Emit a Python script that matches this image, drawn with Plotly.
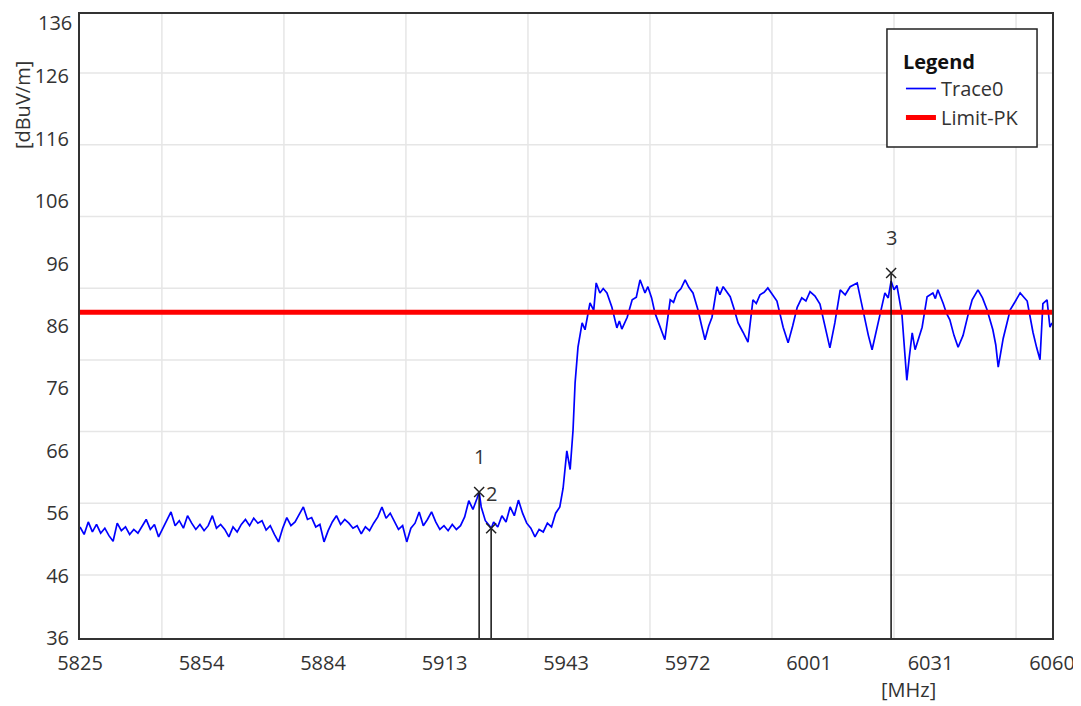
import plotly.graph_objects as go

# ---------------- data ----------------
trace0_freq = [
    5825, 5826, 5827, 5828, 5829, 5830, 5831, 5832, 5833, 5834, 5835, 5836, 5837, 5838, 5839,
    5840, 5841, 5842, 5843, 5844, 5845, 5846, 5847, 5848, 5849, 5850, 5851, 5852, 5853, 5854,
    5855, 5856, 5857, 5858, 5859, 5860, 5861, 5862, 5863, 5864, 5865, 5866, 5867, 5868, 5869,
    5870, 5871, 5872, 5873, 5874, 5875, 5876, 5877, 5878, 5879, 5880, 5881, 5882, 5883, 5884,
    5885, 5886, 5887, 5888, 5889, 5890, 5891, 5892, 5893, 5894, 5895, 5896, 5897, 5898, 5899,
    5900, 5901, 5902, 5903, 5904, 5905, 5906, 5907, 5908, 5909, 5910, 5911, 5912, 5913, 5914,
    5915, 5916, 5917, 5918, 5919, 5920, 5921, 5921.5, 5922, 5923, 5924, 5924.4, 5925, 5926,
    5927, 5928, 5929, 5930, 5931, 5932, 5933, 5934, 5935, 5936, 5937, 5938, 5939, 5940, 5941,
    5941.8, 5942.7, 5943.5, 5944.2, 5944.7, 5945.4, 5946.4, 5947.1, 5948.3, 5949.2, 5949.8,
    5950.7, 5951.5, 5952.4, 5953.6, 5954.8, 5955.4, 5956, 5957.3, 5958.5, 5959.5, 5960.4,
    5961.6, 5962.3, 5963.2, 5964, 5965.2, 5966.4, 5967.7, 5968.5, 5969.3, 5970.3, 5971.3,
    5972.2, 5973.2, 5974.4, 5975.3, 5976.1, 5977.0, 5977.8, 5979, 5979.7, 5980.5, 5981.4,
    5982.2, 5983.2, 5984.1, 5985.3, 5986.5, 5987.7, 5988.5, 5989.4, 5990.4, 5991.3, 5992.4,
    5993.5, 5995, 5996.2, 5997.3, 5998.4, 5999.5, 6000.5, 6001.5, 6002.7, 6003.9, 6005.1,
    6006.3, 6007.5, 6008.8, 6010, 6011.2, 6012.9, 6013.8, 6014.8, 6015.6, 6016.5, 6017.4,
    6018.4, 6019.6, 6020.4, 6021.1, 6021.8, 6022.5, 6023.7, 6024.9, 6025.5, 6026.2, 6026.9,
    6027.8, 6028.6, 6029.8, 6031.2, 6031.8, 6032.4, 6033.7, 6034.5, 6035.3, 6036.3, 6037.3,
    6038.5, 6039.6, 6040.7, 6042.1, 6043.2, 6044.3, 6045.7, 6046.4, 6047, 6048.2, 6049.9,
    6051.0, 6052.3, 6054, 6055.4, 6056.3, 6057.1, 6057.8, 6058.8, 6059.5, 6060,
]
trace0_level = [
    53.8, 52.6, 54.6, 53.0, 54.2, 52.8, 53.6, 52.4, 51.5, 54.4, 53.2, 53.8, 52.6, 53.4, 52.8,
    54.0, 55.0, 53.4, 54.2, 52.2, 53.6, 54.8, 56.2, 54.0, 54.8, 53.6, 55.6, 54.4, 53.4, 54.2,
    53.2, 54.0, 55.6, 53.6, 54.2, 53.4, 52.2, 53.8, 53.0, 54.2, 55.0, 54.0, 55.2, 54.4, 54.8,
    53.3, 54.0, 52.6, 51.4, 53.6, 55.3, 54.0, 54.6, 55.8, 57.0, 55.0, 55.3, 53.8, 54.2, 51.4,
    53.2, 54.6, 55.6, 54.2, 55.0, 54.4, 53.6, 54.0, 52.7, 53.8, 53.2, 54.4, 55.4, 57.0, 55.2,
    56.0, 54.6, 53.4, 54.0, 51.4, 53.6, 54.4, 56.2, 54.0, 55.0, 56.2, 54.6, 53.4, 54.0, 53.2,
    54.2, 53.4, 54.0, 55.4, 58.0, 56.6, 58.4, 59.4, 57.0, 54.8, 54.0, 53.5, 54.6, 53.8,
    55.6, 54.6, 57.0, 55.6, 58.1, 56.0, 54.4, 53.6, 52.2, 53.4, 53.0, 54.4, 53.8, 56.0, 57.0,
    60.0, 66.0, 63.0, 69.3, 76.9, 82.6, 86.5, 85.4, 89.7, 88.5, 92.9,
    91.3, 92.0, 91.3, 89.0, 85.7, 86.8, 85.5, 87.4, 90.2, 90.6, 93.4,
    91.3, 92.3, 90.5, 88.1, 85.8, 83.8, 90.2, 89.8, 91.3, 92.0, 93.4,
    92.2, 91.3, 88.6, 86.0, 83.8, 86.0, 87.4, 92.3, 91.0, 92.3, 91.5,
    90.7, 88.6, 86.5, 85.0, 83.4, 90.2, 89.6, 91.0, 91.4, 92.1, 91.0,
    90.0, 85.8, 83.3, 86.0, 89.0, 90.5, 90.0, 91.5, 90.8, 89.5, 86.0,
    82.5, 86.5, 91.8, 91.0, 92.3, 92.9, 90.0, 87.0, 84.5, 82.2, 85.0,
    88.0, 91.3, 90.5, 93.2, 91.8, 92.5, 88.0, 77.3, 81.0, 84.9, 82.2,
    84.0, 85.8, 90.7, 91.3, 90.4, 91.8, 89.6, 88.0, 87.0, 84.5, 82.6,
    84.5, 87.5, 90.2, 91.8, 90.5, 88.6, 85.4, 83.0, 79.4, 84.0, 88.6,
    89.8, 91.3, 90.0, 85.0, 82.5, 80.6, 89.6, 90.2, 85.8, 86.5,
]

limit_freq = [5825, 6060]
limit_level = [88.2, 88.2]

marker_labels = ["1", "2", "3"]
marker_freq = [5921.5, 5924.4, 6021.1]
marker_level = [59.4, 53.6, 94.5]

x_tick_values = [5825, 5854.375, 5883.75, 5913.125, 5942.5, 5971.875, 6001.25, 6030.625, 6060]
x_tick_labels = ["5825", "5854", "5884", "5913", "5943", "5972", "6001", "6031", "6060"]
y_tick_values = [36, 46, 56, 66, 76, 86, 96, 106, 116, 126, 136]

x_range = [5825, 6060]
y_range = [36, 136]

# grid (instrument grid is offset from the labelled ticks)
x_grid = [5844.8 + 29.5 * k for k in range(8)]
y_grid = [46.1 + 11.49 * k for k in range(8)]

FONT = "Open Sans"
TXT = "#333333"
FS = 20

fig = go.Figure()

fig.add_trace(go.Scatter(
    x=trace0_freq, y=trace0_level, mode="lines", name="Trace0",
    line=dict(color="#0000ff", width=1.7),
))
fig.add_trace(go.Scatter(
    x=limit_freq, y=limit_level, mode="lines", name="Limit-PK",
    line=dict(color="#ff0000", width=5),
))

# marker stems
stem_x, stem_y = [], []
for f, v in zip(marker_freq, marker_level):
    stem_x += [f, f, None]
    stem_y += [y_range[0], v, None]
fig.add_trace(go.Scatter(
    x=stem_x, y=stem_y, mode="lines", showlegend=False, hoverinfo="skip",
    line=dict(color="#111111", width=1.5),
))
fig.add_trace(go.Scatter(
    x=marker_freq, y=marker_level, mode="markers", showlegend=False,
    marker=dict(symbol="x-thin", size=10, line=dict(color="#222222", width=1.5)),
))
for lab, f, v in zip(marker_labels, marker_freq, marker_level):
    fig.add_annotation(x=f, y=v, text=lab, showarrow=False, yshift=35,
                       font=dict(family=FONT, size=FS, color=TXT))

shapes = []
for gx in x_grid:
    shapes.append(dict(type="line", xref="x", yref="paper", x0=gx, x1=gx, y0=0, y1=1,
                       line=dict(color="#e6e6e6", width=1.5), layer="below"))
for gy in y_grid:
    shapes.append(dict(type="line", xref="paper", yref="y", x0=0, x1=1, y0=gy, y1=gy,
                       line=dict(color="#e6e6e6", width=1.5), layer="below"))
# legend frame
shapes.append(dict(type="rect", xref="paper", yref="paper", x0=0.8302, x1=0.9846,
                   y0=0.7869, y1=0.976, line=dict(color="#222222", width=1.5),
                   fillcolor="white", layer="above"))

# all y tick labels but the top one come from the axis; the top one is nudged
# down inside the page like the instrument does
axis_y_ticks = [v for v in y_tick_values if v < y_range[1]]

fig.update_layout(
    width=1081, height=706,
    margin=dict(l=72, r=37, t=6, b=76, autoexpand=False),
    paper_bgcolor="white", plot_bgcolor="white",
    font=dict(family=FONT, size=FS, color=TXT),
    shapes=shapes,
    showlegend=True,
    legend=dict(
        x=0.8446, y=0.9535, xanchor="left", yanchor="top",
        bgcolor="rgba(0,0,0,0)", borderwidth=0,
        title=dict(text="<b>Legend</b>", font=dict(family=FONT, size=FS, color="#111")),
        font=dict(family=FONT, size=FS, color=TXT),
        itemwidth=30,
    ),
    xaxis=dict(
        range=x_range, tickmode="array", tickvals=x_tick_values, ticktext=x_tick_labels,
        showgrid=False, zeroline=False, showline=True, linecolor="#333333", linewidth=2,
        mirror=True, ticks="", ticklabelstandoff=6, automargin=False,
        ticklabeloverflow="allow",
        tickfont=dict(family=FONT, size=FS, color=TXT),
    ),
    yaxis=dict(
        range=y_range, tickmode="array", tickvals=axis_y_ticks,
        showgrid=False, zeroline=False, showline=True, linecolor="#333333", linewidth=2,
        mirror=True, ticks="", ticklabelstandoff=5, automargin=False,
        ticklabeloverflow="allow",
        tickfont=dict(family=FONT, size=FS, color=TXT),
    ),
)

fig.add_annotation(xref="paper", yref="y", x=0, y=y_range[1], text=str(y_range[1]),
                   xanchor="right", yanchor="middle", xshift=-7, yshift=-8, borderpad=0,
                   showarrow=False, font=dict(family=FONT, size=FS, color=TXT))
fig.add_annotation(xref="paper", yref="paper", x=-0.0597, y=0.854, text="[dBuV/m]",
                   xanchor="center", yanchor="middle",
                   textangle=-90, showarrow=False, font=dict(family=FONT, size=FS, color=TXT))
fig.add_annotation(xref="paper", yref="paper", x=0.852, y=-0.083, text="[MHz]",
                   xanchor="center", yanchor="middle",
                   showarrow=False, font=dict(family=FONT, size=FS, color=TXT))

fig.write_html("out.html")
